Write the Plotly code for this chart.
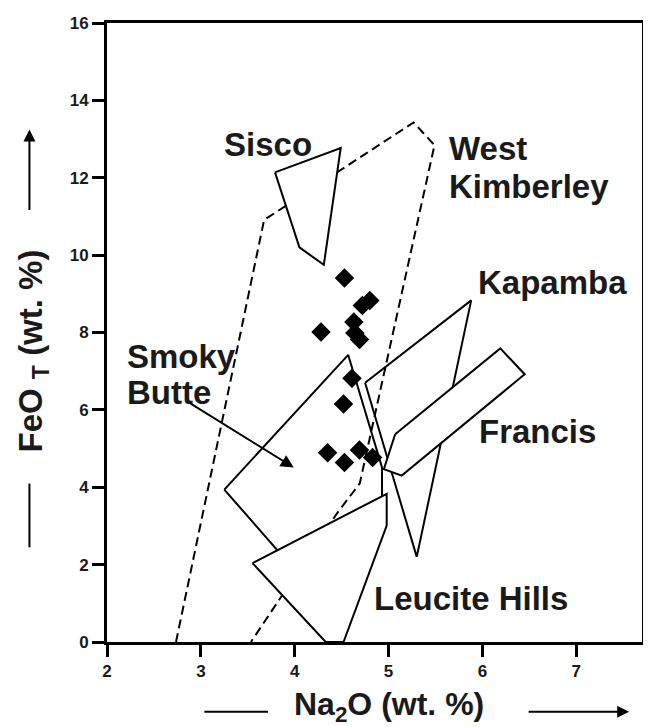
import plotly.graph_objects as go

# ---- data (Na2O wt.%, FeO_T wt.%) ----
sample_na2o = [4.53, 4.80, 4.72, 4.28, 4.63, 4.64, 4.69, 4.61, 4.52, 4.35, 4.53, 4.69, 4.83]
sample_feo = [9.41, 8.83, 8.70, 8.01, 8.27, 7.99, 7.82, 6.82, 6.15, 4.89, 4.64, 4.96, 4.77]

smoky_x = [3.25, 4.57, 4.93, 4.93, 4.28, 3.25]
smoky_y = [3.94, 7.42, 4.51, 3.53, 1.08, 3.94]

kapamba_x = [4.75, 5.88, 5.30, 4.75]
kapamba_y = [6.70, 8.83, 2.20, 6.70]

wk_x = [2.735, 3.674, 5.267, 5.489, 4.693, 4.449, 3.533]
wk_y = [0.0, 10.91, 13.43, 12.84, 4.10, 3.32, 0.0]

sisco_x = [3.79, 4.49, 4.31, 4.05, 3.79]
sisco_y = [12.14, 12.77, 9.75, 10.20, 12.14]

leucite_x = [3.55, 4.98, 4.98, 4.52, 4.33, 3.55]
leucite_y = [2.04, 3.83, 3.01, 0.0, 0.0, 2.04]

francis_x = [5.07, 6.19, 6.45, 5.14, 4.95, 5.07]
francis_y = [5.37, 7.59, 6.92, 4.30, 4.47, 5.37]

x_ticks = [2, 3, 4, 5, 6, 7]
y_ticks = [0, 2, 4, 6, 8, 10, 12, 14, 16]
x_ticktext = ["<b>%d</b>" % v for v in x_ticks]
y_ticktext = ["<b>%d</b>" % v for v in y_ticks]

FONT = "Arial, Liberation Sans, Helvetica, sans-serif"

fig = go.Figure()

def poly(xs, ys, fill=False, dash="solid"):
    fig.add_trace(go.Scatter(
        x=xs, y=ys, mode="lines",
        line=dict(color="black", width=2, dash=dash),
        fill="toself" if fill else "none",
        fillcolor="white",
        hoverinfo="skip", showlegend=False,
    ))

poly(smoky_x, smoky_y)
poly(kapamba_x, kapamba_y)
poly(wk_x, wk_y, dash="9px,5px")
poly(sisco_x, sisco_y, fill=True)
poly(leucite_x, leucite_y, fill=True)
poly(francis_x, francis_y, fill=True)

fig.add_trace(go.Scatter(
    x=sample_na2o, y=sample_feo, mode="markers",
    marker=dict(symbol="diamond", size=15, color="black"),
    showlegend=False,
))

labels = [
    ("Sisco", 3.22, 12.85),
    ("West", 5.62, 12.75),
    ("Kimberley", 5.62, 11.77),
    ("Kapamba", 5.93, 9.30),
    ("Smoky", 2.19, 7.39),
    ("Butte", 2.19, 6.44),
    ("Francis", 5.94, 5.43),
    ("Leucite Hills", 4.82, 1.13),
]
for t, x, y in labels:
    fig.add_annotation(x=x, y=y, text=t, showarrow=False, xanchor="left",
                       yanchor="middle",
                       font=dict(family=FONT, size=33, color="#1a1a1a", weight="bold"))

# Smoky Butte arrow
fig.add_annotation(x=3.99, y=4.51, ax=-105, ay=-65, axref="pixel", ayref="pixel",
                   text="", showarrow=True, arrowhead=2, arrowsize=1.3,
                   arrowwidth=2, arrowcolor="black")

# axis titles as annotations with decorative lines/arrows
fig.add_annotation(xref="paper", yref="paper", x=0.528, y=-0.104,
                   xanchor="center", yanchor="middle",
                   text="Na<sub>2</sub>O (wt. %)", showarrow=False,
                   font=dict(family=FONT, size=32, color="#1a1a1a", weight="bold"))
fig.add_annotation(xref="paper", yref="paper", x=-0.1375, y=0.47,
                   xanchor="center", yanchor="middle",
                   text="FeO <sub>T</sub> (wt. %)", showarrow=False, textangle=-90,
                   font=dict(family=FONT, size=33, color="#1a1a1a", weight="bold"))
fig.add_shape(type="line", xref="paper", yref="paper", x0=0.182, x1=0.301,
              y0=-0.1127, y1=-0.1127, line=dict(color="black", width=2))
fig.add_annotation(xref="paper", yref="paper", x=0.976, y=-0.1127, ax=-102, ay=0,
                   text="", showarrow=True, arrowhead=2, arrowsize=1.2,
                   arrowwidth=2, arrowcolor="black")
fig.add_shape(type="line", xref="paper", yref="paper", x0=-0.145, x1=-0.145,
              y0=0.153, y1=0.256, line=dict(color="black", width=2))
fig.add_annotation(xref="paper", yref="paper", x=-0.145, y=0.828, ax=0, ay=82,
                   text="", showarrow=True, arrowhead=2, arrowsize=1.2,
                   arrowwidth=2, arrowcolor="black")

axis_common = dict(
    showgrid=False, zeroline=False, showline=True, mirror=True,
    linecolor="black", linewidth=3, ticks="outside", ticklen=12,
    tickwidth=2.5, tickcolor="black",
    tickfont=dict(family=FONT, size=17, color="#1a1a1a"),
)
fig.update_xaxes(range=[2, 7.7], tickvals=x_ticks, ticktext=x_ticktext, **axis_common)
fig.update_yaxes(range=[0, 16], tickvals=y_ticks, ticktext=y_ticktext, **axis_common)

# page body adds an 8px offset, so the figure is sized to compensate
fig.update_layout(
    width=643, height=719,
    margin=dict(l=99, r=6, t=13, b=85),
    paper_bgcolor="white", plot_bgcolor="white",
    showlegend=False,
)

fig.write_html("out.html")
